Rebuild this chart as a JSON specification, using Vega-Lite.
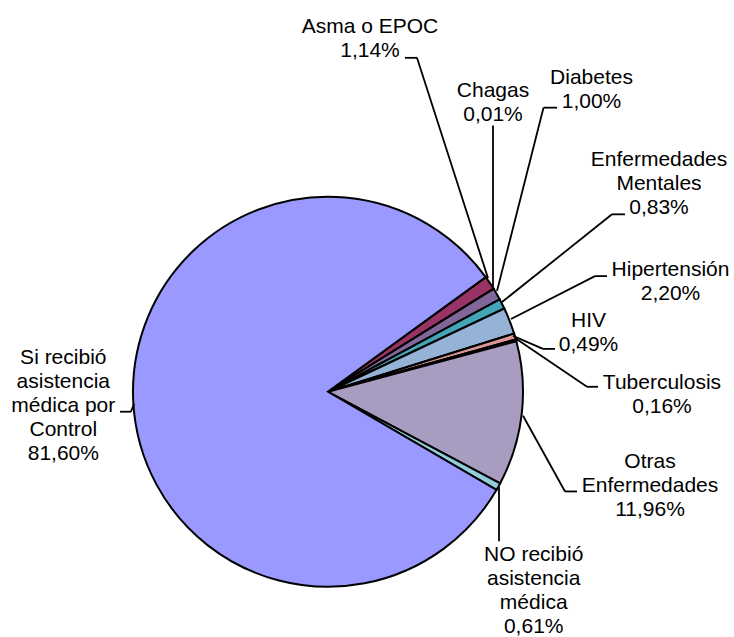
{
  "$schema": "https://vega.github.io/schema/vega-lite/v6.json",
  "width": 734,
  "height": 637,
  "autosize": {"type": "fit", "contains": "padding"},
  "padding": 0,
  "background": "white",
  "config": {"view": {"stroke": null}},
  "data": {
    "values": [
      {"categoria": "Asma o EPOC", "valor": 1.14, "texto": "Asma o EPOC\n1,14%", "lx": 0.2154, "ly": 1.8446, "hx": 0.3949, "hy": 1.7179, "cx": 0.4564, "cy": 1.7179, "px": 0.8205, "py": 0.5846},
      {"categoria": "Chagas", "valor": 0.01, "texto": "Chagas\n0,01%", "lx": 0.8462, "ly": 1.5154, "hx": 0.8462, "hy": 1.3692, "cx": 0.8462, "cy": 1.3692, "px": 0.8462, "py": 0.5282},
      {"categoria": "Diabetes", "valor": 1.00, "texto": "Diabetes\n1,00%", "lx": 1.3513, "ly": 1.5831, "hx": 1.1744, "hy": 1.4615, "cx": 1.1051, "cy": 1.4615, "px": 0.8667, "py": 0.5179},
      {"categoria": "Enfermedades Mentales", "valor": 0.83, "texto": "Enfermedades\nMentales\n0,83%", "lx": 1.6974, "ly": 1.1605, "hx": 1.5231, "hy": 0.9128, "cx": 1.4564, "cy": 0.9128, "px": 0.8923, "py": 0.4615},
      {"categoria": "Hipertensión", "valor": 2.20, "texto": "Hipertensión\n2,20%", "lx": 1.7564, "ly": 0.5933, "hx": 1.4308, "hy": 0.5949, "cx": 1.3692, "cy": 0.5949, "px": 0.9385, "py": 0.3744},
      {"categoria": "HIV", "valor": 0.49, "texto": "HIV\n0,49%", "lx": 1.3359, "ly": 0.3349, "hx": 1.1641, "hy": 0.2205, "cx": 1.1026, "cy": 0.2205, "px": 0.9487, "py": 0.2872},
      {"categoria": "Tuberculosis", "valor": 0.16, "texto": "Tuberculosis\n0,16%", "lx": 1.7128, "ly": 0.0154, "hx": 1.3846, "hy": 0.0256, "cx": 1.3282, "cy": 0.0256, "px": 0.9590, "py": 0.2769},
      {"categoria": "Otras Enfermedades", "valor": 11.96, "texto": "Otras\nEnfermedades\n11,96%", "lx": 1.6513, "ly": -0.3913, "hx": 1.2769, "hy": -0.5128, "cx": 1.2154, "cy": -0.5128, "px": 1.0, "py": -0.1231},
      {"categoria": "NO recibió asistencia médica", "valor": 0.61, "texto": "NO recibió\nasistencia\nmédica\n0,61%", "lx": 1.0549, "ly": -0.8703, "hx": 0.8769, "hy": -0.7692, "cx": 0.8769, "cy": -0.7692, "px": 0.8769, "py": -0.4872},
      {"categoria": "Si recibió asistencia médica por Control", "valor": 81.60, "texto": "Si recibió\nasistencia\nmédica por\nControl\n81,60%", "lx": -1.3574, "ly": 0.1436, "hx": -1.0667, "hy": -0.1026, "cx": -1.0103, "cy": -0.1026, "px": -0.9949, "py": -0.0615}
    ]
  },
  "transform": [{"window": [{"op": "row_number", "as": "orden"}]}],
  "layer": [
    {
      "mark": {"type": "arc", "outerRadius": 195, "stroke": "black", "strokeWidth": 2},
      "encoding": {
        "theta": {"field": "valor", "type": "quantitative", "stack": true, "scale": {"range": [0.9425, 7.2257]}},
        "order": {"field": "orden", "type": "quantitative"},
        "color": {
          "field": "categoria", "type": "nominal", "legend": null,
          "scale": {
            "domain": ["Asma o EPOC", "Chagas", "Diabetes", "Enfermedades Mentales", "Hipertensión", "HIV", "Tuberculosis", "Otras Enfermedades", "NO recibió asistencia médica", "Si recibió asistencia médica por Control"],
            "range": ["#993366", "#FFFFCC", "#806699", "#45A5B8", "#95B3D7", "#D99694", "#C3D69B", "#A89CC0", "#93CDDD", "#9999FF"]
          }
        },
        "x": {"datum": 0, "type": "quantitative", "scale": {"domain": [-1.68205, 2.08205], "nice": false, "zero": false}, "axis": null},
        "y": {"datum": 0, "type": "quantitative", "scale": {"domain": [-1.25128, 2.01538], "nice": false, "zero": false}, "axis": null}
      }
    },
    {
      "mark": {"type": "rule", "stroke": "black", "strokeWidth": 1.8},
      "encoding": {
        "x": {"field": "hx", "type": "quantitative"},
        "y": {"field": "hy", "type": "quantitative"},
        "x2": {"field": "cx"},
        "y2": {"field": "cy"}
      }
    },
    {
      "mark": {"type": "rule", "stroke": "black", "strokeWidth": 1.8},
      "encoding": {
        "x": {"field": "cx", "type": "quantitative"},
        "y": {"field": "cy", "type": "quantitative"},
        "x2": {"field": "px"},
        "y2": {"field": "py"}
      }
    },
    {
      "mark": {"type": "text", "font": "Liberation Sans", "fontSize": 21, "lineBreak": "\n", "lineHeight": 24, "align": "center", "baseline": "alphabetic", "color": "black"},
      "encoding": {
        "x": {"field": "lx", "type": "quantitative"},
        "y": {"field": "ly", "type": "quantitative"},
        "text": {"field": "texto"}
      }
    }
  ]
}
